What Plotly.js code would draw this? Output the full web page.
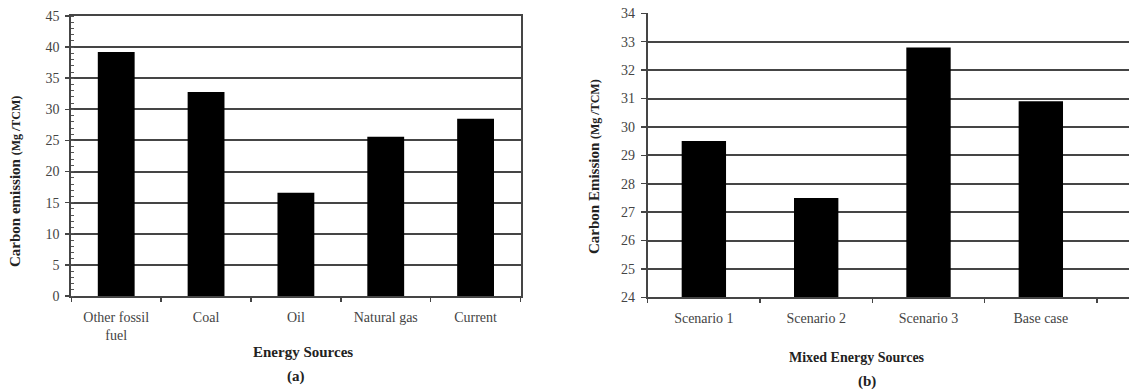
<!DOCTYPE html>
<html>
<head>
<meta charset="utf-8">
<script src="https://cdn.plot.ly/plotly-3.0.1.min.js"></script>
<style>html,body{margin:0;padding:0;background:#fff;}#chart{width:1129px;height:391px;}</style>
</head>
<body>
<div id="chart"></div>
<script>
// Panel (a)
const sourcesA = ["Other fossil<br>fuel", "Coal", "Oil", "Natural gas", "Current"];
const emissionA = [39.2, 32.8, 16.6, 25.6, 28.5];
// Panel (b)
const sourcesB = ["Scenario 1", "Scenario 2", "Scenario 3", "Base case"];
const emissionB = [29.5, 27.5, 32.8, 30.9];

const serif = "'Liberation Serif', 'Times New Roman', serif";
const gridCol = "#454545";
const tickFont = {family: serif, size: 14, color: "#444"};

const traces = [
  {type: "bar", x: sourcesA, y: emissionA, xaxis: "x", yaxis: "y",
   width: 0.41, marker: {color: "#000", line: {width: 0}}, hoverinfo: "x+y"},
  {type: "bar", x: sourcesB, y: emissionB, xaxis: "x2", yaxis: "y2",
   width: 0.395, marker: {color: "#000", line: {width: 0}}, hoverinfo: "x+y"}
];

const W = 1129, H = 391;
const px = v => v / W;
const py = v => 1 - v / H;

const layout = {
  width: W, height: H,
  margin: {l: 0, r: 0, t: 0, b: 0},
  paper_bgcolor: "#fff", plot_bgcolor: "#fff",
  showlegend: false,
  font: {family: serif, color: "#222"},
  xaxis: {
    domain: [px(71.3), px(520.5)], anchor: "y",
    type: "category", tickson: "boundaries", ticks: "outside", ticklen: 4,
    tickcolor: gridCol, tickwidth: 1.5,
    showline: true, linecolor: gridCol, linewidth: 2, mirror: true,
    showgrid: false, tickfont: tickFont, ticklabelstandoff: 7,
    range: [-0.5, 4.5], fixedrange: true
  },
  yaxis: {
    domain: [py(296), py(16)], anchor: "x",
    range: [0, 45], dtick: 5, tick0: 0,
    ticks: "outside", ticklen: 4, tickcolor: gridCol, tickwidth: 1.5,
    minor: {ticks: "inside", dtick: 1, ticklen: 3, tickcolor: "#555", tickwidth: 1, showgrid: false},
    showline: true, linecolor: gridCol, linewidth: 2, mirror: true,
    showgrid: true, gridcolor: gridCol, gridwidth: 2,
    zeroline: false, tickfont: tickFont, ticklabelstandoff: 3, fixedrange: true
  },
  xaxis2: {
    domain: [px(647.7), 1], anchor: "y2",
    type: "category", tickson: "boundaries", ticks: "outside", ticklen: 4,
    tickcolor: gridCol, tickwidth: 1.5,
    showline: true, linecolor: gridCol, linewidth: 2,
    showgrid: false, tickfont: tickFont, ticklabelstandoff: 7,
    range: [-0.5, 3.785], fixedrange: true
  },
  yaxis2: {
    domain: [py(297.3), py(13.3)], anchor: "x2",
    range: [24, 34], dtick: 1, tick0: 24,
    ticks: "outside", ticklen: 5, tickcolor: gridCol, tickwidth: 1.5,
    showline: true, linecolor: gridCol, linewidth: 2,
    showgrid: true, gridcolor: gridCol, gridwidth: 2,
    zeroline: false, tickfont: tickFont, ticklabelstandoff: 3, fixedrange: true
  },
  annotations: [
    {text: "<b>Carbon emission <span style='font-size:12px'>(Mg /TCM)</span></b>",
     xref: "paper", yref: "paper", x: px(15), y: py(182), textangle: -90,
     showarrow: false, font: {family: serif, size: 15, color: "#222"}, xanchor: "center", yanchor: "middle"},
    {text: "<b>Energy Sources</b>", xref: "paper", yref: "paper", x: px(303), y: py(352),
     showarrow: false, font: {family: serif, size: 15, color: "#222"}, xanchor: "center", yanchor: "middle"},
    {text: "<b>(a)</b>", xref: "paper", yref: "paper", x: px(296), y: py(376),
     showarrow: false, font: {family: serif, size: 15, color: "#222"}, xanchor: "center", yanchor: "middle"},
    {text: "<b>Carbon Emission <span style='font-size:12px'>(Mg /TCM)</span></b>",
     xref: "paper", yref: "paper", x: px(594), y: py(167), textangle: -90,
     showarrow: false, font: {family: serif, size: 15, color: "#222"}, xanchor: "center", yanchor: "middle"},
    {text: "<b>Mixed Energy Sources</b>", xref: "paper", yref: "paper", x: px(857), y: py(357),
     showarrow: false, font: {family: serif, size: 14, color: "#222"}, xanchor: "center", yanchor: "middle"},
    {text: "<b>(b)</b>", xref: "paper", yref: "paper", x: px(867), y: py(381),
     showarrow: false, font: {family: serif, size: 15, color: "#222"}, xanchor: "center", yanchor: "middle"}
  ]
};

Plotly.newPlot("chart", traces, layout, {displayModeBar: false, staticPlot: true});
</script>
</body>
</html>
